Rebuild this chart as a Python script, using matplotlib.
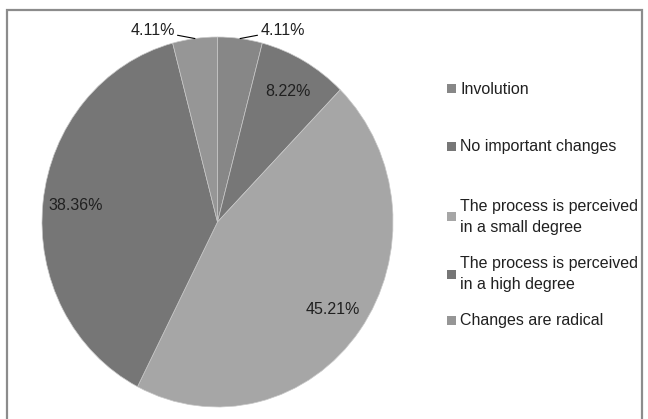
import matplotlib
matplotlib.use("Agg")
import matplotlib.pyplot as plt
from matplotlib.patches import Rectangle
import numpy as np

categories = ["Involution", "No important changes",
              "The process is perceived\nin a small degree",
              "The process is perceived\nin a high degree",
              "Changes are radical"]
values = [4.11, 8.22, 45.21, 38.36, 4.11]
colors = ["#878787", "#777777", "#a6a6a6", "#767676", "#969696"]

W, H = 648, 419
fig = plt.figure(figsize=(W / 100, H / 100), dpi=100)
plt.rcParams['font.family'] = ['Liberation Sans', 'DejaVu Sans']
FS = 11.5
TC = "#202020"

# outer frame
fig.patches.append(Rectangle((7 / W, -0.05), 635 / W, (H - 10) / H + 0.05,
                             transform=fig.transFigure, fill=False,
                             edgecolor="#8c8c8c", linewidth=1.6))

# pie axes (elliptical)
px0, px1, py0, py1 = 42, 393, 37, 407
ax = fig.add_axes([px0 / W, (H - py1) / H, (px1 - px0) / W, (py1 - py0) / H])
wedges, texts, autotexts = ax.pie(values, colors=colors, startangle=90, counterclock=False,
                                  autopct=lambda p: f"{p:.2f}%", pctdistance=0.81,
                                  wedgeprops=dict(edgecolor="#c8c8c8", linewidth=0.5),
                                  textprops=dict(fontsize=FS, color=TC))
ax.set_aspect('auto')
ax.set_xlim(-1, 1)
ax.set_ylim(-1, 1)
ax.axis('off')

for t, v in zip(autotexts, values):
    t.set_text(f"{v:.2f}%")

# small slices: labels outside with leader lines
for i, side in [(0, 1), (4, -1)]:
    w = wedges[i]
    ang = np.deg2rad((w.theta1 + w.theta2) / 2)
    x0, y0 = np.cos(ang), np.sin(ang)
    autotexts[i].set_visible(False)
    tx = x0 + side * 0.115
    ty = 1.035
    ax.annotate(f"{values[i]:.2f}%", xy=(x0, y0), xytext=(tx, ty),
                ha='left' if side > 0 else 'right', va='center',
                fontsize=FS, color=TC, annotation_clip=False,
                arrowprops=dict(arrowstyle='-', color='black', lw=0.8,
                                shrinkA=0, shrinkB=0,
                                connectionstyle="arc3"))

# legend (manual layout)
leg_y = [89, 147, 217, 274, 320]
for lab, c, y in zip(categories, colors, leg_y):
    fig.patches.append(Rectangle((447 / W, (H - y - 4.5) / H), 9 / W, 9 / H,
                                 transform=fig.transFigure, facecolor=c, edgecolor='none'))
    fig.text(460 / W, (H - y) / H, lab, ha='left', va='center', fontsize=FS,
             color=TC, linespacing=1.5)

fig.savefig("out.png", dpi=100)
